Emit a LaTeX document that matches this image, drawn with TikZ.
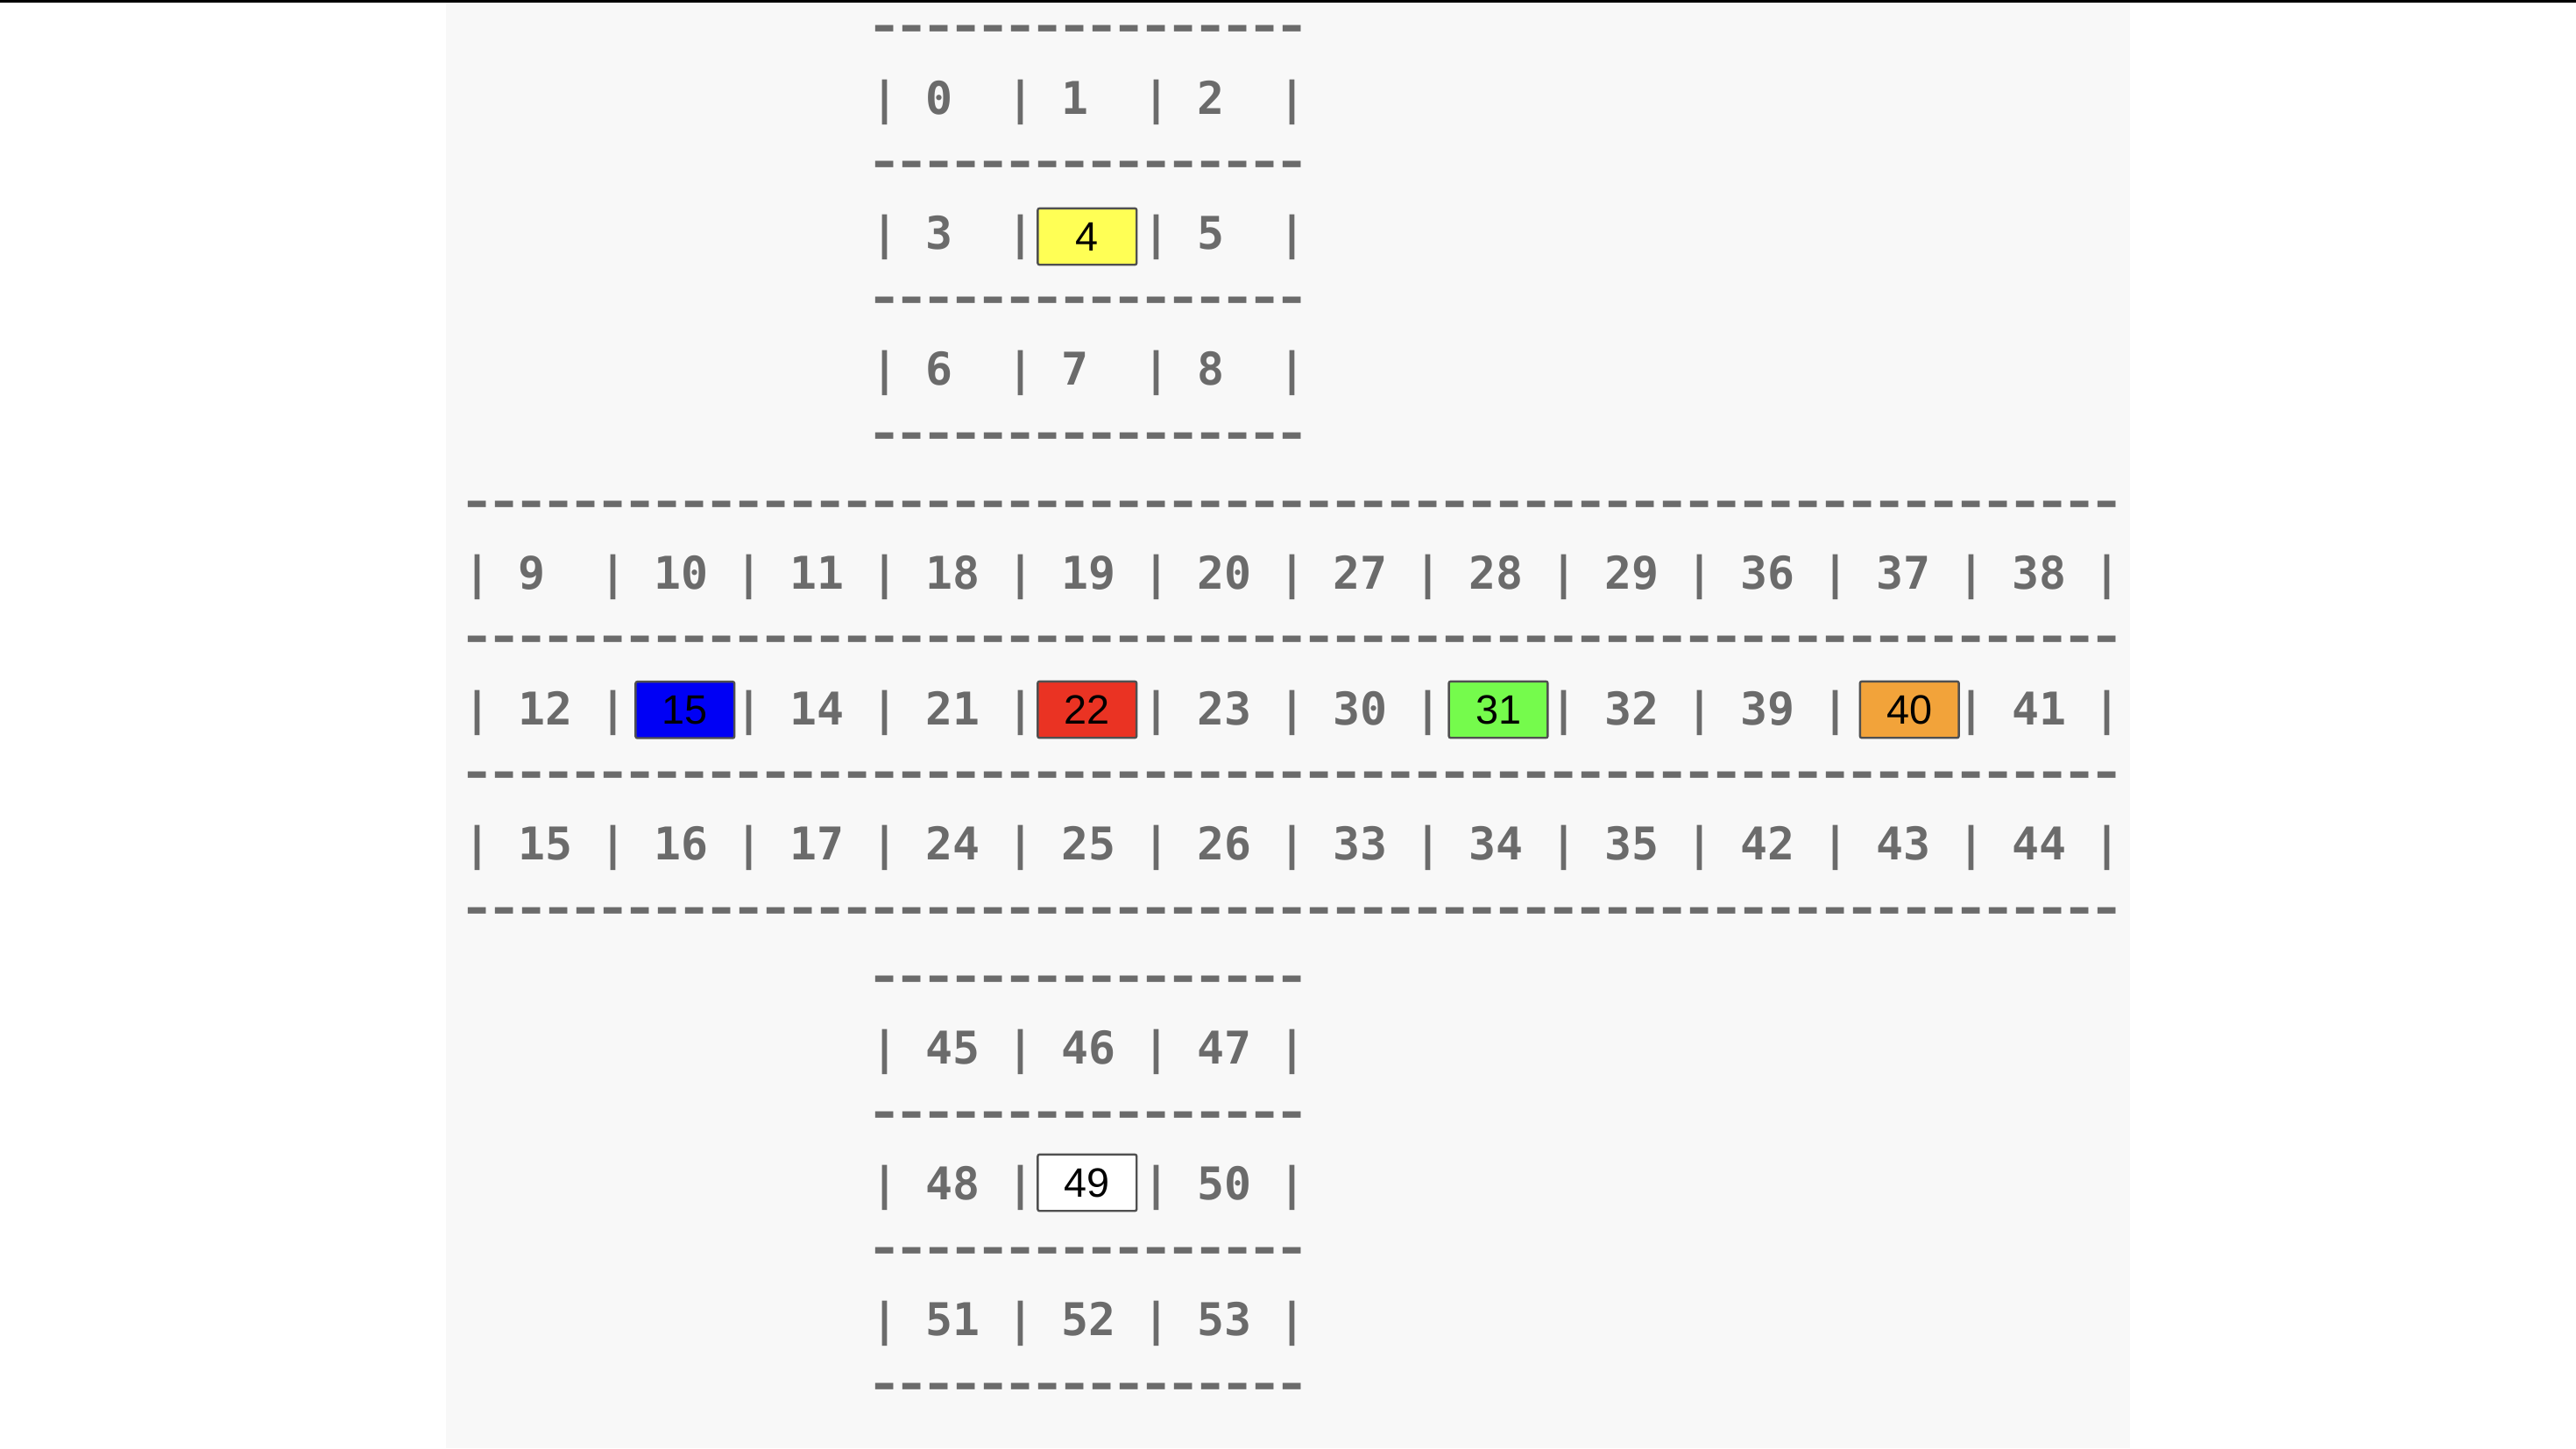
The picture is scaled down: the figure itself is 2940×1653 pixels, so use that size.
\documentclass[tikz,border=0pt]{standalone}
\usepackage{graphicx}
\usepackage{fontspec}
\newfontfamily\monof{DejaVu Sans Mono}[Ligatures=TeXOff]
\newfontfamily\boxf{Liberation Sans}
\definecolor{txt}{HTML}{6B6B6B}
\definecolor{panel}{HTML}{F8F8F8}
\definecolor{brd}{HTML}{505050}
\definecolor{cyellow}{HTML}{FFFF55}
\definecolor{cblue}{HTML}{0000F5}
\definecolor{cred}{HTML}{EA3323}
\definecolor{cgreen}{HTML}{75FB4C}
\definecolor{corange}{HTML}{F2A33A}
\newcommand\hy{\makebox[7.75pt][c]{\scalebox{1.3}[1]{-}}}
\newcommand\shortrule{\foreach \i in {1,...,16}{\hy}}
\newcommand\longrule{\foreach \i in {1,...,61}{\hy}}
\begin{document}
\begin{tikzpicture}[x=0.25pt,y=-0.25pt,
  txtline/.style={anchor=base west, inner sep=0pt, outer sep=0pt, text=txt,
    font=\monof\bfseries\fontsize{12.873}{15}\selectfont},
  dashline/.style={txtline},
  cellbox/.style={draw=brd, line width=0.6pt, rounded corners=0.5pt,
    minimum width=28.2pt, minimum height=16.1pt, inner sep=0pt,
    font=\boxf\fontsize{11.7}{13}\selectfont, text=black}]
\useasboundingbox (0,0) rectangle (2940,1653);
\fill[white] (0,0) rectangle (2940,1653);
\fill[panel] (509,0) rectangle (2431,1653);
\fill[black] (0,0) rectangle (2940,2.5);
% top block
\node[dashline] (d0) at (994.1,47.7) {\shortrule};
\node[txtline] (t1) at (994.1,130.0) {|~0~~|~1~~|~2~~|};
\node[dashline] (d2) at (994.1,202.6) {\shortrule};
\node[txtline] (t3a) at (994.1,284.9) {|~3~~|};
\node[cellbox, fill=cyellow] (b4) at (1240.8,270) {4\hspace{1.5pt}};
\node[txtline] (t3b) at (1304.1,284.9) {|~5~~|};
\node[dashline] (d4) at (994.1,357.6) {\shortrule};
\node[txtline] (t5) at (994.1,439.8) {|~6~~|~7~~|~8~~|};
\node[dashline] (d6) at (994.1,512.5) {\shortrule};
% middle block
\node[dashline] (d7) at (529.1,590.0) {\longrule};
\node[txtline] (t8) at (529.1,672.15) {|~9~~|~10~|~11~|~18~|~19~|~20~|~27~|~28~|~29~|~36~|~37~|~38~|};
\node[dashline] (d9) at (529.1,744.9) {\longrule};
\node[txtline] (t10a) at (529.1,827.05) {|~12~|};
\node[cellbox, fill=cblue] (b15) at (781.8,810.3) {15\hspace{1.5pt}};
\node[txtline] (t10b) at (839.1,827.05) {|~14~|~21~|};
\node[cellbox, fill=cred] (b22) at (1240.75,810) {22\hspace{1.1pt}};
\node[txtline] (t10c) at (1304.1,827.05) {|~23~|~30~|};
\node[cellbox, fill=cgreen] (b31) at (1710,810) {31\hspace{7.15pt}};
\node[txtline] (t10d) at (1769.1,827.05) {|~32~|~39~|};
\node[cellbox, fill=corange] (b40) at (2179.2,810) {40\hspace{1.45pt}};
\node[txtline] (t10e) at (2234.1,827.05) {|~41~|};
\node[dashline] (d11) at (529.1,899.9) {\longrule};
\node[txtline] (t12) at (529.1,981.95) {|~15~|~16~|~17~|~24~|~25~|~26~|~33~|~34~|~35~|~42~|~43~|~44~|};
\node[dashline] (d13) at (529.1,1054.8) {\longrule};
% bottom block
\node[dashline] (d14) at (994.1,1132.3) {\shortrule};
\node[txtline] (t15) at (994.1,1214.3) {|~45~|~46~|~47~|};
\node[dashline] (d16) at (994.1,1287.2) {\shortrule};
\node[txtline] (t17a) at (994.1,1369.2) {|~48~|};
\node[cellbox, fill=white] (b49) at (1240.8,1350) {49\hspace{1.5pt}};
\node[txtline] (t17b) at (1304.1,1369.2) {|~50~|};
\node[dashline] (d18) at (994.1,1442.2) {\shortrule};
\node[txtline] (t19) at (994.1,1524.1) {|~51~|~52~|~53~|};
\node[dashline] (d20) at (994.1,1597.1) {\shortrule};
\end{tikzpicture}
\end{document}
